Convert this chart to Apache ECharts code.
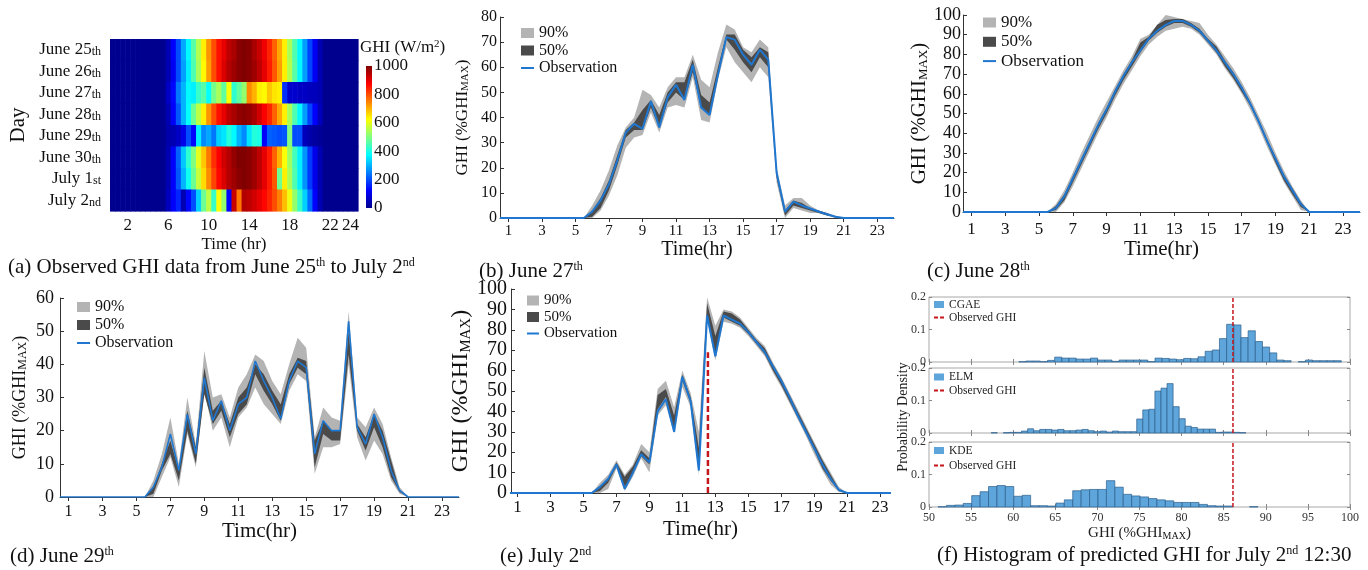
<!DOCTYPE html>
<html><head><meta charset="utf-8">
<script src="https://cdn.jsdelivr.net/npm/echarts@6.0.0/dist/echarts.min.js"></script>
<style>html,body{margin:0;padding:0;background:#fff}#c{width:1368px;height:570px}</style>
</head><body><div id="c"></div>
<script>
// ---------------- DATA ----------------
// (a) heatmap: half-hour cells, W/m2
const HM_HOURS = [0.5,1,1.5,2,2.5,3,3.5,4,4.5,5,5.5,6,6.5,7,7.5,8,8.5,9,9.5,10,10.5,11,11.5,12,12.5,13,13.5,14,14.5,15,15.5,16,16.5,17,17.5,18,18.5,19,19.5,20,20.5,21,21.5,22,22.5,23,23.5,24,24.5];
const HM_XTICKS = [2,6,10,14,18,22,24];
const DAY_NAMES = ['June 25','June 26','June 27','June 28','June 29','June 30','July 1','July 2'];
const DAY_SUFFIX = ['th','th','th','th','th','th','st','nd'];
const GHI_JUN25 = [0,0,0,0,0,0,0,0,0,0,0,40,120,200,290,370,460,550,640,730,800,860,900,940,960,990,1000,990,960,930,890,840,780,710,640,540,450,370,280,190,110,40,0,0,0,0,0,0,0];
const GHI_JUN26 = [0,0,0,0,0,0,0,0,0,0,0,40,110,200,280,360,450,540,630,720,800,860,910,950,970,990,1000,990,970,940,900,850,790,720,640,550,460,370,280,190,110,40,0,0,0,0,0,0,0];
const GHI_JUN27 = [0,0,0,0,0,0,0,0,0,0,0,60,130,240,300,370,360,430,460,380,490,540,470,620,420,470,520,740,700,640,630,680,650,640,170,70,70,60,60,50,50,40,0,0,0,0,0,0,0];
const GHI_JUN28 = [0,0,0,0,0,0,0,0,0,0,0,40,120,210,300,380,480,560,640,730,800,860,900,940,960,980,990,980,960,920,880,840,780,710,640,540,450,370,280,190,120,50,0,0,0,0,0,0,0];
const GHI_JUN29 = [0,0,0,0,0,0,0,0,0,0,0,30,40,60,100,200,130,360,260,290,240,330,350,410,370,300,260,350,410,400,120,220,210,200,210,500,200,200,50,30,20,10,0,0,0,0,0,0,0];
const GHI_JUN30 = [0,0,0,0,0,0,0,0,0,0,0,40,120,220,320,420,500,600,680,760,830,880,920,950,980,1000,1000,990,970,940,900,850,780,700,620,530,440,360,270,180,100,40,0,0,0,0,0,0,0];
const GHI_JUL01 = [0,0,0,0,0,0,0,0,0,0,0,40,120,210,300,390,480,570,660,740,810,870,910,950,970,990,1000,990,970,940,900,850,790,480,640,540,450,360,270,180,100,40,0,0,0,0,0,0,0];
const GHI_JUL02 = [0,0,0,0,0,0,0,0,0,0,0,50,120,160,40,130,200,330,480,560,430,620,520,130,930,760,950,940,920,900,870,840,800,750,690,610,520,430,330,230,120,40,0,0,0,0,0,0,0];
const CBAR_TICKS = [0,200,400,600,800,1000];

// (b)-(e) forecast panels, %GHImax
const HOURS = [0.5,5.5,6,6.5,7,7.5,8,8.5,9,9.5,10,10.5,11,11.5,12,12.5,13,13.5,14,14.5,15,15.5,16,16.5,17,17.5,18,18.5,19,19.5,20,20.5,21,24];
const LINE_XTICKS = [1,3,5,7,9,11,13,15,17,19,21,23];

const B_OBS  = [0,0,2.5,7,13.5,23,34,37.5,35.5,46.5,36,48,53,47,61,44,41,57,72,71,65,61,67,63,18,2.5,6.5,5,3.8,2.6,1.5,0.5,0,0];
const B_LO90 = [0,0,0,3,9,17,28,32,33,42,34,44,45,44,56,39,38,55,68,62,58,54,60,56,14,0,4,3,2,2,1,0,0,0];
const B_HI90 = [0,0,5,11,19,29,36,40,51,49,44,52,56,56,65,55,52,66,77,75,68,66,71,68,20,5,8,8,5,3,2,1,0,0];
const B_LO50 = [0,0,0.5,4,11,21,32,35,35,44,36,46,50,47,58,44,41,56,71,67,62,58,64,60,16,1,5,4,3,2,1,0.5,0,0];
const B_HI50 = [0,0,3,8,15,25,35,38,43,47,41,50,54,54,63,49,46,60,73,73,67,64,68,66,18,3,7,6,4,3,2,0.5,0,0];

const C_OBS  = [0,0,2,8,17,26,35,44,52,61,69,76,82,88,92,95,97,97,95,92,87,82,76,70,63,55,46,36,27,18,11,4,0,0];
const C_LO90 = [0,0,0,5,13,22,31,40,48,57,65,72,79,85,89,92,93,94,93,90,85,80,73,67,60,52,43,33,24,15,8,1,0,0];
const C_HI90 = [0,0,4,11,20,30,39,48,56,64,72,79,88,90,95,100,99,98,97,96,90,85,79,73,66,58,49,40,30,21,13,6,0,0];
const C_LO50 = [0,0,1,6,15,24,33,42,50,59,67,74,81,87,91,94,96,96,94,91,86,81,74,68,61,54,45,35,25,16,9,2.5,0,0];
const C_HI50 = [0,0,3,9,18,27,36,45,53,62,70,77,86,89,95,97.5,98,98,96,93,88,84,77,71,64,56,47,37,28,19,12,5,0,0];

const D_OBS  = [0,0,3,9,19,8,25,13,36,23,29,20,28,30,41,35,30,23.5,35,41,39,13,23,20,20,53,21,16,25,18,8,2,0,0];
const D_LO90 = [0,0,0,6,12,3,19,9,32,20,24,15,24,27,33,28,25,22,32,37,35,7,15,15,16,40,18,11,17,13,5,1,0,0];
const D_HI90 = [0,0,5,13,24,10,30,16,44,30,31,24,33,37,43,41,35,31,40,48,45,18,27,24,23,56,24,21,27,22,12,3,0,0];
const D_LO50 = [0,0,1,8,13,5,20,10,31,22,26,18,25,28,37,32,28,23,34,39,37,9,19,17,17,43,20,14,21,15,6,1.5,0,0];
const D_HI50 = [0,0,3,10,17,8,26,15,39,26,29,22,30,33,40,37,32,28,37,42,41,17,23,20,20,50,22,18,25,20,11,2,0,0];

const E_OBS  = [0,0,3,7,14,2,10,19,15,40,46,30,57,45,11,87,67,87,85,83,79,74,69,62,55,47,38,30,22,14,7,1.5,0,0];
const E_LO90 = [0,0,0,2,12,1,8,17,10,38,43,29,52,42,9,85,65,84,83,81,77,72,67,59,52,44,36,28,19,11,4,0.5,0,0];
const E_HI90 = [0,0,5,9,16,9,14,24,20,51,55,42,60,49,30,96,82,90,89,86,81,76,72,64,57,49,41,33,25,17,10,3,0,0];
const E_LO50 = [0,0,1,5,13,3,10,18,14,41,47,31,55,44,12,87,68,86,84,82,78,73,68,60,53,45,37,29,21,12,6,1,0,0];
const E_HI50 = [0,0,3,7,15,8,13,21,17,48,51,38,58,47,22,93,77,89,88,85,80,75,71,63,56,48,40,32,24,16,9,2,0,0];
const E_MARK_HOUR = 12.55;
const E_MARK_TOP = 69;

// (f) histograms
const OBS_GHI_1230 = 86.1;
const CGAE_START = 60.67, CGAE_BIN = 0.851;
const CGAE_DENS = [0.001,0.003,0.003,0.001,0.005,0.015,0.012,0.012,0.009,0.009,0.012,0.006,0.006,0.002,0.006,0.006,0.006,0.006,0.001,0.012,0.011,0.009,0.007,0.011,0.010,0.016,0.033,0.037,0.072,0.116,0.114,0.075,0.096,0.063,0.046,0.028,0.006,0.004,0,0.001,0.006,0.004,0.004,0.004,0.004];
const ELM_START = 57.39, ELM_BIN = 0.72;
const ELM_DENS = [0.001,0,0.001,0.002,0.002,0.006,0.013,0.007,0.011,0.011,0.009,0.011,0.007,0.007,0.009,0.011,0.007,0.004,0.006,0.003,0.006,0.004,0.004,0.004,0.043,0.071,0.073,0.129,0.138,0.152,0.081,0.044,0.021,0.017,0.012,0.012,0.012,0.002,0.003,0.003,0.002,0.001];
const KDE_START = 51.07, KDE_BIN = 1.0;
const KDE_DENS = [0.001,0.005,0.006,0.011,0.035,0.047,0.063,0.066,0.063,0.033,0.036,0.004,0.004,0.003,0.012,0.022,0.050,0.053,0.054,0.054,0.081,0.061,0.039,0.034,0.031,0.026,0.022,0.019,0.014,0.014,0.014,0.008,0.004,0.003,0.003,0,0,0.001];

// ---------------- STYLE ----------------
const SERIF = 'Liberation Serif';
const INK = '#111';
const JET = ['#00008F','#0000FF','#0080FF','#00FFFF','#80FF80','#FFFF00','#FF8000','#FF0000','#800000'];
const C90 = '#b4b4b4', C50 = '#4a4a4a', BLUE = '#1f77d0', RED = '#c4161c', HIST = '#5da5da';

const HEAT_ROWS = [GHI_JUN25,GHI_JUN26,GHI_JUN27,GHI_JUN28,GHI_JUN29,GHI_JUN30,GHI_JUL01,GHI_JUL02];
const heatData = [];
HEAT_ROWS.forEach((row, d) => row.forEach((v, i) => heatData.push([HM_HOURS[i], d, v])));

function ts(fs, extra) { return Object.assign({fontSize: fs, fontFamily: SERIF, color: INK}, extra || {}); }
function maxRich(fs) { return {s: {fontSize: Math.round(fs * 0.64), fontFamily: SERIF, color: INK, verticalAlign: 'bottom'}}; }

function bandRender(params, api) {
  if (params.dataIndexInside !== 0) return null;
  const n = params.dataInsideLength, up = [], dn = [];
  for (let j = 0; j < n; j++) {
    const x = api.value(0, j);
    up.push(api.coord([x, api.value(2, j)]));
    dn.push(api.coord([x, api.value(1, j)]));
  }
  return {type: 'polygon', shape: {points: up.concat(dn.reverse())}, style: {fill: api.visual('color')}};
}
function histRender(params, api) {
  const h = api.value(2);
  if (!h) return null;
  const a = api.coord([api.value(0), h]);
  const b = api.coord([api.value(1), 0]);
  return {type: 'rect', shape: {x: a[0], y: a[1], width: b[0] - a[0], height: b[1] - a[1]},
    style: {fill: api.visual('color'), stroke: '#2d5f8c', lineWidth: 0.7}};
}

function timeX(g, min, max, o) {
  return {type: 'value', gridIndex: g, min: min, max: max,
    axisLine: {show: true, onZero: false, lineStyle: {color: '#333'}},
    axisTick: {show: true, customValues: LINE_XTICKS, length: 4, lineStyle: {color: '#333'}},
    axisLabel: {customValues: LINE_XTICKS, fontSize: o.fs, margin: o.m, color: INK, fontFamily: SERIF},
    splitLine: {show: false},
    name: o.name, nameLocation: 'middle', nameGap: o.ng, nameTextStyle: ts(o.nfs)};
}
function ghiY(g, max, o) {
  return {type: 'value', gridIndex: g, min: 0, max: max, interval: 10,
    axisLine: {show: true, onZero: false, lineStyle: {color: '#333'}},
    axisTick: {show: true, inside: true, length: 4, lineStyle: {color: '#333'}},
    axisLabel: {fontSize: o.fs, margin: o.m, color: INK, fontFamily: SERIF},
    splitLine: {show: false},
    name: 'GHI (%GHI{s|MAX})', nameLocation: 'middle', nameGap: o.ng, nameRotate: 90,
    nameTextStyle: ts(o.nfs, {rich: maxRich(o.nfs)})};
}
function panelSeries(g, obs, lo90, hi90, lo50, hi50, lw) {
  return [
    {type: 'custom', name: '90%', xAxisIndex: g, yAxisIndex: g, silent: true, z: 1,
      data: HOURS.map((h, i) => [h, lo90[i], hi90[i]]), encode: {x: 0, y: [1, 2]},
      itemStyle: {color: C90}, renderItem: bandRender},
    {type: 'custom', name: '50%', xAxisIndex: g, yAxisIndex: g, silent: true, z: 2,
      data: HOURS.map((h, i) => [h, lo50[i], hi50[i]]), encode: {x: 0, y: [1, 2]},
      itemStyle: {color: C50}, renderItem: bandRender},
    {type: 'line', name: 'Observation', xAxisIndex: g, yAxisIndex: g, z: 3,
      data: HOURS.map((h, i) => [h, obs[i]]), symbol: 'none', showSymbol: false,
      lineStyle: {width: lw, color: BLUE}, itemStyle: {color: BLUE}}
  ];
}
function histX(g, bottom) {
  const ax = {type: 'value', gridIndex: g, min: 50, max: 100, interval: 5,
    axisLine: {show: false}, splitLine: {show: false},
    axisTick: {show: true, inside: true, length: 3, lineStyle: {color: '#888'}},
    axisLabel: {show: bottom, fontSize: 12, margin: 5, color: '#333', fontFamily: SERIF}};
  if (bottom) { ax.name = 'GHI (%GHI{s|MAX})'; ax.nameLocation = 'middle'; ax.nameGap = 19; ax.nameTextStyle = ts(15, {color: '#222', rich: maxRich(15)}); }
  return ax;
}
function histXTop(g) {
  return {type: 'value', gridIndex: g, position: 'top', min: 50, max: 100, interval: 5,
    axisLine: {show: false}, splitLine: {show: false}, axisLabel: {show: false},
    axisTick: {show: true, inside: true, length: 3, lineStyle: {color: '#888'}}};
}
function histY(g, right) {
  return {type: 'value', gridIndex: g, min: 0, max: 0.2, interval: 0.1, position: right ? 'right' : 'left',
    axisLine: {show: false}, splitLine: {show: false},
    axisTick: {show: true, inside: true, length: 3, lineStyle: {color: '#888'}},
    axisLabel: {show: !right, fontSize: 12, margin: 3, color: '#333', fontFamily: SERIF}};
}
function histSeries(g, name, start, bin, dens) {
  return [
    {type: 'custom', name: name, xAxisIndex: g, yAxisIndex: g, silent: true, z: 2,
      data: dens.map((v, i) => [start + i * bin, start + (i + 1) * bin, v]), encode: {x: [0, 1], y: 2},
      itemStyle: {color: HIST}, renderItem: histRender},
    {type: 'line', name: 'Observed GHI', xAxisIndex: g, yAxisIndex: g, z: 5,
      data: [[OBS_GHI_1230, 0], [OBS_GHI_1230, 0.2]], symbol: 'none',
      lineStyle: {type: [4, 2], color: RED, width: 1.5}, itemStyle: {color: RED}}
  ];
}
function lineLegend(left, top, fs, lh, gap, iw) {
  return {left: left, top: top, orient: 'vertical', padding: 0, selectedMode: false,
    itemWidth: iw || 12, itemHeight: 10, itemGap: gap,
    data: [{name: '90%', icon: 'rect'}, {name: '50%', icon: 'rect'}, {name: 'Observation', itemStyle: {opacity: 0}}],
    textStyle: ts(fs, {lineHeight: lh})};
}
function histLegend(name, top, gap) {
  return {left: 933, top: top, orient: 'vertical', padding: 0, selectedMode: false,
    itemWidth: 10, itemHeight: 7, itemGap: gap,
    data: [{name: name, icon: 'rect'}, {name: 'Observed GHI', itemStyle: {opacity: 0}}],
    textStyle: ts(11.5, {lineHeight: 11, color: '#222'})};
}
function caption(text, left, top) {
  return {text: text, left: left, top: top, padding: 0,
    textStyle: ts(21, {fontWeight: 'normal', rich: {sup: {fontSize: 12, fontFamily: SERIF, color: INK, verticalAlign: 'top'}}})};
}
function g(left, top, width, height, box) {
  return {left: left, top: top, width: width, height: height, containLabel: false, outerBoundsMode: 'none',
    show: !!box, borderColor: '#a8a8a8', borderWidth: 1, backgroundColor: 'transparent'};
}

const option = {
  animation: false,
  backgroundColor: '#fff',
  textStyle: {fontFamily: SERIF},
  title: [
    caption('(a) Observed GHI data from June 25{sup|th} to July 2{sup|nd}', 8, 257),
    caption('(b) June 27{sup|th}', 479, 261),
    caption('(c) June 28{sup|th}', 927, 261),
    caption('(d) June 29{sup|th}', 10, 546),
    caption('(e) July 2{sup|nd}', 500, 546),
    caption('(f) Histogram of predicted GHI for July 2{sup|nd} 12:30', 937, 545),
    {text: 'GHI (W/m{sup|2})', left: 360, top: 39, padding: 0,
      textStyle: ts(17, {fontWeight: 'normal', rich: {sup: {fontSize: 11, fontFamily: SERIF, color: INK, verticalAlign: 'top'}}})}
  ],
  graphic: [
    {type: 'text', x: 903, y: 417, rotation: Math.PI / 2, silent: true,
      style: {text: 'Probability Density', fontSize: 14, fontFamily: SERIF, fill: '#222', align: 'center', verticalAlign: 'middle'}}
  ],
  legend: [
    lineLegend(520, 25, 16, 14, 1.5, 13),
    lineLegend(982, 14, 17, 16, 2.3, 13),
    lineLegend(76, 299, 16, 14, 2, 13),
    lineLegend(526, 293, 15, 14, 1.5, 12),
    histLegend('CGAE', 298.5, 1),
    histLegend('ELM', 371, 1.5),
    histLegend('KDE', 444.5, 3)
  ],
  visualMap: [{type: 'continuous', show: false, seriesIndex: 0, dimension: 2, min: 0, max: 1000, inRange: {color: JET}}],
  grid: [
    g(110, 39, 248, 172),
    g(366, 66, 6, 142),
    g(500, 17, 394, 201),
    g(963, 15, 397, 197),
    g(60, 298, 399, 199),
    g(511, 289, 379, 204),
    g(929, 297, 421, 65, true),
    g(929, 368, 421, 65, true),
    g(929, 442, 421, 65, true)
  ],
  xAxis: [
    {type: 'value', gridIndex: 0, min: 0.25, max: 24.75, axisLine: {show: false}, axisTick: {show: false}, splitLine: {show: false},
      axisLabel: {customValues: HM_XTICKS, fontSize: 17, margin: 6, color: INK, fontFamily: SERIF},
      name: 'Time (hr)', nameLocation: 'middle', nameGap: 25, nameTextStyle: ts(17)},
    {type: 'value', gridIndex: 1, min: 0, max: 1, show: false},
    timeX(2, 0.5, 24, {fs: 15, m: 6, name: 'Time(hr)', ng: 20, nfs: 20}),
    timeX(3, 0.5, 24, {fs: 17, m: 9, name: 'Time(hr)', ng: 27, nfs: 21}),
    timeX(4, 0.5, 24, {fs: 16, m: 7, name: 'Timc(hr)', ng: 20, nfs: 21}),
    timeX(5, 0.6, 23.6, {fs: 17, m: 6, name: 'Time(hr)', ng: 26, nfs: 21}),
    histX(6, false), histX(7, false), histX(8, true),
    histXTop(6), histXTop(7), histXTop(8)
  ],
  yAxis: [
    {type: 'category', gridIndex: 0, data: DAY_NAMES, inverse: true, axisLine: {show: false}, axisTick: {show: false},
      axisLabel: {interval: 0, formatter: (v, i) => v + '{s|' + DAY_SUFFIX[i] + '}', fontSize: 17, margin: 9, color: INK, fontFamily: SERIF,
        rich: {s: {fontSize: 12, fontFamily: SERIF, color: INK, verticalAlign: 'bottom'}}},
      name: 'Day', nameLocation: 'middle', nameGap: 81, nameRotate: 90, nameTextStyle: ts(21)},
    {type: 'value', gridIndex: 1, min: 0, max: 1000, position: 'right', axisLine: {show: false}, axisTick: {show: false}, splitLine: {show: false},
      axisLabel: {customValues: CBAR_TICKS, formatter: v => String(v), fontSize: 17, margin: 2, color: INK, fontFamily: SERIF}},
    ghiY(2, 80, {fs: 16, m: 3, ng: 29, nfs: 17}),
    ghiY(3, 100, {fs: 18, m: 2, ng: 27, nfs: 21}),
    ghiY(4, 60, {fs: 18, m: 6, ng: 31, nfs: 18}),
    ghiY(5, 100, {fs: 20, m: 4, ng: 27, nfs: 24}),
    histY(6, false), histY(7, false), histY(8, false),
    histY(6, true), histY(7, true), histY(8, true)
  ],
  series: [
    {type: 'custom', name: 'GHI', xAxisIndex: 0, yAxisIndex: 0, silent: true, data: heatData, encode: {x: 0, y: 1},
      renderItem: function (params, api) {
        const p = api.coord([api.value(0), api.value(1)]);
        const s = api.size([0.5, 1]);
        return {type: 'rect', shape: {x: p[0] - s[0] / 2, y: p[1] - s[1] / 2, width: s[0] + 0.6, height: s[1] + 0.6},
          style: {fill: api.visual('color')}};
      }},
    {type: 'custom', name: 'colorbar', xAxisIndex: 1, yAxisIndex: 1, silent: true, data: [[0, 0]],
      renderItem: function (params, api) {
        const a = api.coord([0, 1000]), b = api.coord([1, 0]);
        const stops = JET.slice().reverse().map((c, i) => ({offset: i / (JET.length - 1), color: c}));
        return {type: 'rect', shape: {x: a[0], y: a[1], width: b[0] - a[0], height: b[1] - a[1]},
          style: {fill: {type: 'linear', x: 0, y: 0, x2: 0, y2: 1, colorStops: stops}}};
      }},
    ...panelSeries(2, B_OBS, B_LO90, B_HI90, B_LO50, B_HI50, 2),
    ...panelSeries(3, C_OBS, C_LO90, C_HI90, C_LO50, C_HI50, 2),
    ...panelSeries(4, D_OBS, D_LO90, D_HI90, D_LO50, D_HI50, 1.6),
    ...panelSeries(5, E_OBS, E_LO90, E_HI90, E_LO50, E_HI50, 2),
    {type: 'line', name: 'mark', xAxisIndex: 5, yAxisIndex: 5, z: 6, silent: true,
      data: [[E_MARK_HOUR, 0], [E_MARK_HOUR, E_MARK_TOP]], symbol: 'none',
      lineStyle: {type: [6, 3], color: RED, width: 2.5}},
    ...histSeries(6, 'CGAE', CGAE_START, CGAE_BIN, CGAE_DENS),
    ...histSeries(7, 'ELM', ELM_START, ELM_BIN, ELM_DENS),
    ...histSeries(8, 'KDE', KDE_START, KDE_BIN, KDE_DENS)
  ]
};

const chart = echarts.init(document.getElementById('c'), null, {renderer: 'canvas'});
chart.setOption(option);
</script></body></html>
